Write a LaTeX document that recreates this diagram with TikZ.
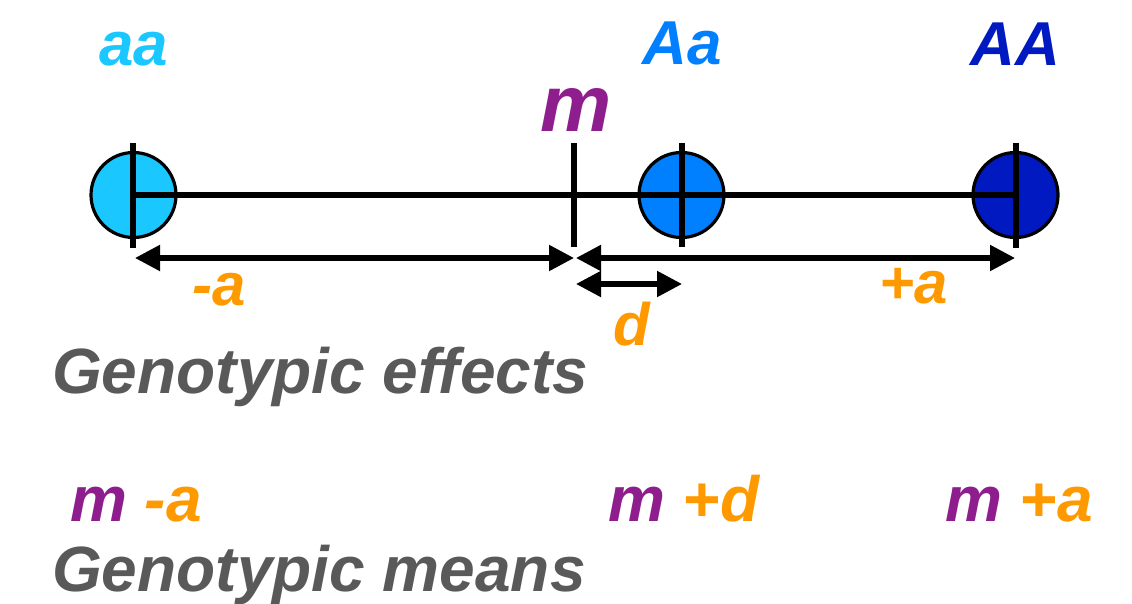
\documentclass[tikz,border=0pt]{standalone}
\usepackage{fontspec}
\setmainfont{Liberation Sans}
\usetikzlibrary{arrows.meta}
\definecolor{caa}{HTML}{1AC8FF}
\definecolor{cAa}{HTML}{0080FF}
\definecolor{cAA}{HTML}{0019C0}
\definecolor{cpurp}{HTML}{8E1E8E}
\definecolor{corange}{HTML}{FF9900}
\definecolor{cgray}{HTML}{595959}
\begin{document}
\begin{tikzpicture}[x=1pt,y=-1pt,
  lbl/.style={font=\bfseries\itshape\fontsize{62}{74}\selectfont, inner sep=0pt, anchor=base},
  biglbl/.style={font=\bfseries\itshape\fontsize{64}{76}\selectfont, inner sep=0pt, anchor=base west, text=cgray},
  meanlbl/.style={font=\bfseries\itshape\fontsize{64}{76}\selectfont, inner sep=0pt, anchor=base west},
  geno/.style={circle, draw=black, line width=3.2pt, minimum size=85pt, inner sep=0pt},
  conn/.style={line width=5.2pt},
  dbl/.style={line width=5.2pt, {Triangle[length=25pt,width=25pt]}-{Triangle[length=25pt,width=25pt]}}
]
\useasboundingbox (0,0) rectangle (1132,603);
% circles
\node[geno, fill=caa] (aa) at (133.5,195) {};
\node[geno, fill=cAa] (Aa) at (681.5,195) {};
\node[geno, fill=cAA] (AA) at (1015.5,195) {};
% main line
\draw[conn] (aa.center) -- (AA.center);
% ticks
\coordinate (aaT) at (133,143); \coordinate (aaB) at (133,248);
\coordinate (mT) at (574,143); \coordinate (mB) at (574,247);
\coordinate (AaT) at (682,143); \coordinate (AaB) at (682,247);
\coordinate (AAT) at (1016,143); \coordinate (AAB) at (1016,248);
\draw[conn] (aaT) -- (aaB);
\draw[conn] (mT) -- (mB);
\draw[conn] (AaT) -- (AaB);
\draw[conn] (AAT) -- (AAB);
% arrows
\coordinate (a1) at (135,258); \coordinate (a2) at (574,258);
\coordinate (b1) at (576,258); \coordinate (b2) at (1015,258);
\coordinate (d1) at (576,284); \coordinate (d2) at (682,284);
\draw[dbl] (a1) -- (a2);
\draw[dbl] (b1) -- (b2);
\draw[dbl] (d1) -- (d2);
% labels
\node[lbl, text=caa] (laa) at (134,65) {aa};
\node[lbl, text=cAa] (lAa) at (682,64) {Aa};
\node[lbl, text=cAA] (lAA) at (1015,65) {AA};
\node[lbl, text=cpurp, font=\bfseries\itshape\fontsize{80}{92}\selectfont] (lm) at (576,131) {m};
\node[lbl, text=corange, font=\bfseries\itshape\fontsize{60}{72}\selectfont] (lma) at (219,305) {-a};
\node[lbl, text=corange, font=\bfseries\itshape\fontsize{60}{72}\selectfont] (lpa) at (914,303) {+a};
\node[lbl, text=corange, font=\bfseries\itshape\fontsize{60}{72}\selectfont] (ld) at (632,345) {d};
\node[biglbl] (eff) at (52,393) {Genotypic effects};
\node[biglbl] (means) at (52,591) {Genotypic means};
\node[meanlbl] (m1) at (70,521) {\textcolor{cpurp}{m} \textcolor{corange}{-a}};
\node[meanlbl] (m2) at (608,521) {\textcolor{cpurp}{m} \textcolor{corange}{+d}};
\node[meanlbl] (m3) at (945,521) {\textcolor{cpurp}{m} \textcolor{corange}{+a}};
\end{tikzpicture}
\end{document}
